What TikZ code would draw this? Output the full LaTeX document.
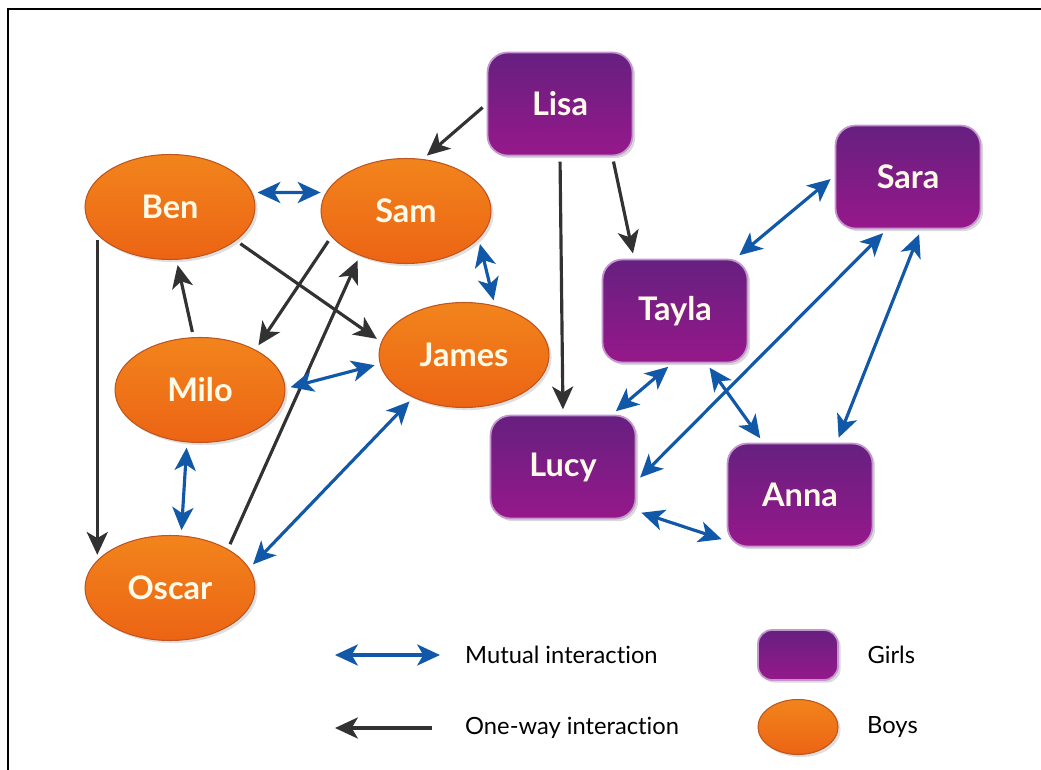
\documentclass[tikz,border=0pt]{standalone}
\usepackage{fontspec}
\setmainfont{Lato}[Ligatures=CommonOff]
\usetikzlibrary{arrows.meta, positioning, shapes.geometric, shadows}
\definecolor{boyorange}{RGB}{242,132,28}
\definecolor{boyorangedark}{RGB}{236,100,20}
\definecolor{boyrim}{RGB}{190,84,30}
\definecolor{girltop}{RGB}{102,32,128}
\definecolor{girlbottom}{RGB}{150,24,138}
\definecolor{girlrim}{RGB}{196,150,206}
\definecolor{mutualblue}{RGB}{18,88,168}
\definecolor{onewaygray}{RGB}{50,50,50}
\definecolor{labelcream}{RGB}{255,250,232}

\begin{document}
\begin{tikzpicture}[x=0.02cm, y=-0.02cm,
    >={Stealth[length=13pt, width=12pt, inset=3.5pt]},
    boy/.style={ellipse, draw=boyrim, line width=0.6pt,
      top color=boyorange, bottom color=boyorangedark,
      minimum width=3.4cm, minimum height=2.1cm, text=labelcream,
      font=\bfseries\fontsize{18.5}{22}\selectfont,
      drop shadow={opacity=0.25, shadow xshift=1.5pt, shadow yshift=-1.5pt}},
    girl/.style={rectangle, rounded corners=0.4cm, draw=girlrim, line width=1pt,
      top color=girltop, bottom color=girlbottom,
      minimum width=2.9cm, minimum height=2.06cm, text=labelcream,
      font=\bfseries\fontsize{18.5}{22}\selectfont,
      drop shadow={opacity=0.3, shadow xshift=1.5pt, shadow yshift=-1.5pt}},
    mutual/.style={<->, draw=mutualblue, line width=1.8pt,
      shorten >=3pt, shorten <=3pt},
    oneway/.style={->, draw=onewaygray, line width=1.8pt,
      shorten >=3pt, shorten <=3pt},
    legendtext/.style={font=\fontsize{13.5}{16}\selectfont, text=black}]
  \useasboundingbox (0,0) rectangle (1041,770);

  % frame
  \draw[line width=1.7pt] (8,770) -- (8,9) -- (1041,9);

  % Girls
  \node[girl] (Lisa)  at (560,104) {Lisa};
  \node[girl] (Sara)  at (908,177) {Sara};
  \node[girl] (Tayla) at (675,311) {Tayla};
  \node[girl] (Lucy)  at (563,467) {Lucy};
  \node[girl] (Anna)  at (800,495) {Anna};

  % Boys
  \node[boy] (Ben)   at (170,207) {Ben};
  \node[boy] (Sam)   at (406,211) {Sam};
  \node[boy] (James) at (464,355) {James};
  \node[boy] (Milo)  at (200,390) {Milo};
  \node[boy] (Oscar) at (170,588) {Oscar};

  % One-way interactions
  \draw[oneway] (Lisa.west) -- (Sam.72);
  \draw[oneway] (Lisa.south) -- (Lucy.north);
  \draw[oneway] (Lisa.-45) -- (Tayla.128);
  \draw[oneway] (Ben.-27) -- (James.171);
  \draw[oneway] (Sam.199) -- (Milo.36);
  \draw[oneway] (Milo.97) -- (Ben.-83);
  \draw[oneway] (Ben.201) -- (Oscar.159);
  \draw[oneway] (Oscar.34) -- (Sam.224);

  % Mutual interactions
  \draw[mutual] (Ben.10) -- (Sam.167);
  \draw[mutual] (Sam.-21) -- (James.58);
  \draw[mutual] (Milo.1) -- (James.186);
  \draw[mutual] (Milo.256) -- (Oscar.78);
  \draw[mutual] (Oscar.14) -- (James.220);
  \draw[mutual] (Tayla.41) -- (Sara.179);
  \draw[mutual] (Tayla.267) -- (Lucy.47);
  \draw[mutual] (Tayla.-59) -- (Anna.125);
  \draw[mutual] (Lucy.-11) -- (Sara.248);
  \draw[mutual] (Anna.55) -- (Sara.284);
  \draw[mutual] (Lucy.-31) -- (Anna.212);

  % Legend
  \coordinate (mutL) at (335,655);
  \coordinate (mutR) at (440,655);
  \coordinate (oneL) at (335,728);
  \coordinate (oneR) at (432,728);
  \draw[mutual, shorten <=0pt, shorten >=0pt] (mutL) -- (mutR);
  \draw[oneway, shorten <=0pt, shorten >=0pt] (oneR) -- (oneL);
  \node[legendtext, right=0.38cm of mutR] (mutText) {Mutual interaction};
  \node[legendtext, right=0.54cm of oneR] (oneText) {One-way interaction};
  \node[girl, minimum width=1.6cm, minimum height=1cm, rounded corners=0.28cm] (girlKey) at (798,655) {};
  \node[boy, minimum width=1.6cm, minimum height=1.1cm] (boyKey) at (798,727) {};
  \node[legendtext, right=0.45cm of girlKey] (girlText) {Girls};
  \node[legendtext, right=0.45cm of boyKey] (boyText) {Boys};
\end{tikzpicture}
\end{document}
